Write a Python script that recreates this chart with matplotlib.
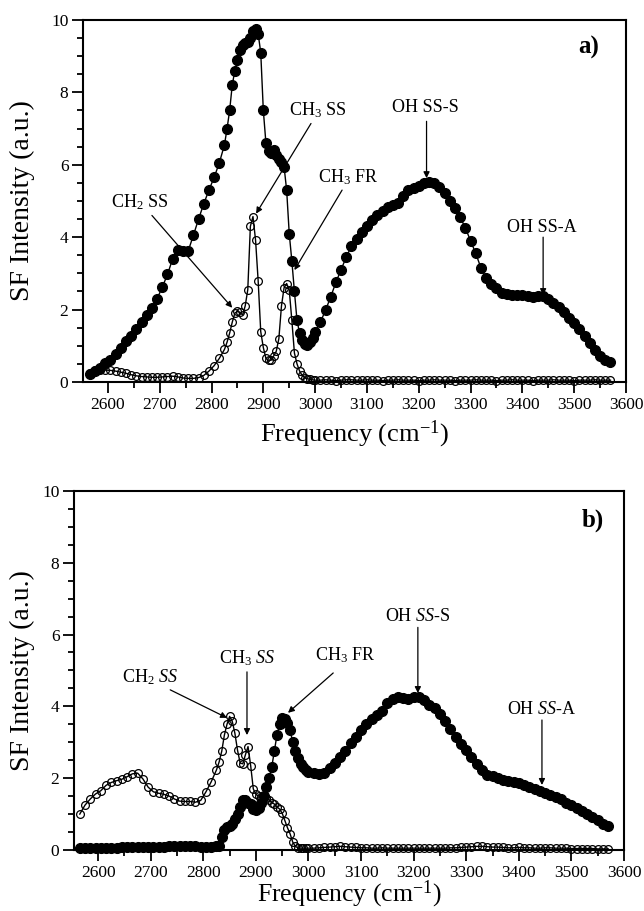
import matplotlib
matplotlib.use('Agg')
import matplotlib.pyplot as plt
from matplotlib.ticker import MultipleLocator

plt.rcParams['font.family'] = ['Liberation Serif', 'DejaVu Serif']
plt.rcParams['mathtext.fontset'] = 'custom'
plt.rcParams['mathtext.rm'] = 'Liberation Serif'
plt.rcParams['mathtext.it'] = 'Liberation Serif:italic'
plt.rcParams['mathtext.bf'] = 'Liberation Serif:bold'

# frequency grid (cm-1), finer through the CH stretch region
freq = list(range(2565, 2830, 10)) + list(range(2830, 3000, 5)) + list(range(3000, 3575, 10))

# panel a) filled circles
sf_a_filled = [
    0.22, 0.30, 0.40, 0.52, 0.62, 0.78, 0.95, 1.12, 1.28, 1.45,
    1.65, 1.85, 2.03, 2.30, 2.62, 2.97, 3.40, 3.65, 3.62, 3.62,
    4.05, 4.50, 4.92, 5.30, 5.65, 6.05, 6.55,
    7.00, 7.50, 8.20, 8.60, 8.90, 9.18, 9.30, 9.36, 9.38, 9.50,
    9.70, 9.74, 9.62, 9.10, 7.50, 6.60, 6.38, 6.32, 6.40, 6.28,
    6.15, 6.07, 5.95, 5.30, 4.10, 3.35, 2.50, 1.70, 1.35, 1.15,
    1.05, 1.03, 1.10, 1.22,
    1.38, 1.65, 1.98, 2.35, 2.75, 3.10, 3.45, 3.75, 3.95, 4.15,
    4.32, 4.48, 4.60, 4.72, 4.82, 4.88, 4.95, 5.15, 5.30, 5.35,
    5.40, 5.50, 5.52, 5.50, 5.38, 5.22, 5.00, 4.80, 4.55, 4.25,
    3.90, 3.55, 3.15, 2.88, 2.72, 2.60, 2.47, 2.42, 2.41, 2.40,
    2.39, 2.37, 2.36, 2.38, 2.38, 2.28, 2.18, 2.06, 1.94, 1.78,
    1.64, 1.45, 1.27, 1.08, 0.88, 0.72, 0.60, 0.56,
]

# panel a) open circles
sf_a_open = [
    0.25, 0.32, 0.33, 0.33, 0.32, 0.30, 0.27, 0.24, 0.20, 0.17,
    0.15, 0.14, 0.13, 0.13, 0.14, 0.15, 0.16, 0.14, 0.11, 0.10,
    0.10, 0.12, 0.18, 0.30, 0.45, 0.65, 0.90,
    1.10, 1.35, 1.65, 1.90, 1.95, 1.92, 1.85, 2.10, 2.55, 4.30,
    4.57, 3.92, 2.80, 1.39, 0.95, 0.65, 0.60, 0.60, 0.72, 0.85,
    1.20, 2.10, 2.60, 2.72, 2.54, 1.71, 0.80, 0.50, 0.30, 0.18,
    0.12, 0.09, 0.07, 0.06,
    0.05, 0.05, 0.06, 0.05, 0.04, 0.05, 0.06, 0.06, 0.05, 0.05,
    0.06, 0.05, 0.05, 0.04, 0.05, 0.05, 0.06, 0.05, 0.05, 0.05,
    0.04, 0.05, 0.05, 0.06, 0.05, 0.05, 0.05, 0.04, 0.05, 0.05,
    0.05, 0.06, 0.05, 0.05, 0.05, 0.04, 0.05, 0.05, 0.06, 0.05,
    0.05, 0.05, 0.04, 0.05, 0.05, 0.05, 0.06, 0.05, 0.05, 0.05,
    0.04, 0.05, 0.05, 0.05, 0.06, 0.05, 0.05, 0.05,
]

# panel b) filled circles
sf_b_filled = [
    0.05, 0.05, 0.05, 0.05, 0.05, 0.06, 0.06, 0.06, 0.07, 0.07,
    0.08, 0.08, 0.08, 0.08, 0.08, 0.09, 0.09, 0.10, 0.10, 0.10,
    0.10, 0.10, 0.10, 0.09, 0.09, 0.09, 0.10,
    0.12, 0.35, 0.55, 0.65, 0.68, 0.72, 0.85, 1.00, 1.20, 1.38,
    1.38, 1.32, 1.28, 1.15, 1.12, 1.18, 1.30, 1.50, 1.75, 2.00,
    2.30, 2.75, 3.20, 3.50, 3.67, 3.65, 3.55, 3.34, 3.00, 2.75,
    2.55, 2.40, 2.30, 2.22,
    2.17, 2.13, 2.12, 2.15, 2.28, 2.42, 2.58, 2.75, 2.97, 3.15,
    3.35, 3.52, 3.65, 3.75, 3.88, 4.10, 4.20, 4.27, 4.22, 4.20,
    4.25, 4.25, 4.17, 4.05, 3.95, 3.80, 3.60, 3.38, 3.15, 2.95,
    2.78, 2.58, 2.40, 2.22, 2.10, 2.05, 2.00, 1.96, 1.93, 1.90,
    1.87, 1.82, 1.76, 1.70, 1.65, 1.60, 1.54, 1.48, 1.42, 1.32,
    1.24, 1.17, 1.08, 1.00, 0.93, 0.83, 0.72, 0.66,
]

# panel b) open circles
sf_b_open = [
    1.00, 1.25, 1.42, 1.56, 1.65, 1.80, 1.88, 1.93, 1.97, 2.04,
    2.12, 2.14, 1.98, 1.75, 1.62, 1.58, 1.55, 1.50, 1.42, 1.36,
    1.35, 1.35, 1.33, 1.38, 1.62, 1.90, 2.23,
    2.45, 2.75, 3.20, 3.50, 3.72, 3.58, 3.25, 2.78, 2.42, 2.40,
    2.65, 2.88, 2.35, 1.70, 1.55, 1.50, 1.48, 1.46, 1.44, 1.40,
    1.32, 1.28, 1.20, 1.14, 1.02, 0.82, 0.62, 0.45, 0.22, 0.10,
    0.06, 0.05, 0.05, 0.05,
    0.05, 0.05, 0.06, 0.07, 0.08, 0.09, 0.10, 0.09, 0.08, 0.07,
    0.06, 0.06, 0.05, 0.05, 0.06, 0.05, 0.05, 0.05, 0.05, 0.05,
    0.05, 0.05, 0.05, 0.05, 0.05, 0.05, 0.05, 0.06, 0.06, 0.07,
    0.08, 0.09, 0.10, 0.10, 0.09, 0.08, 0.08, 0.07, 0.06, 0.06,
    0.07, 0.06, 0.06, 0.05, 0.05, 0.06, 0.06, 0.05, 0.05, 0.05,
    0.04, 0.04, 0.04, 0.04, 0.04, 0.03, 0.03, 0.03,
]

labels_a = ['CH$_2$ SS', 'CH$_3$ SS', 'CH$_3$ FR', 'OH SS-S', 'OH SS-A']
labels_b = [r'CH$_2$ $\mathit{SS}$', r'CH$_3$ $\mathit{SS}$', 'CH$_3$ FR',
            r'OH $\mathit{SS}$-S', r'OH $\mathit{SS}$-A']

fig = plt.figure(figsize=(6.44, 9.11), dpi=100)
ax_a = fig.add_axes([0.1289, 0.5807, 0.8432, 0.3974])
ax_b = fig.add_axes([0.1149, 0.0670, 0.8540, 0.3941])


def style_axes(ax, xleft, ylab_x, xlab_y, xlab_size):
    ax.set_xlim(xleft, 3600)
    ax.set_ylim(0, 10)
    ax.xaxis.set_major_locator(MultipleLocator(100))
    ax.xaxis.set_minor_locator(MultipleLocator(50))
    ax.yaxis.set_major_locator(MultipleLocator(2))
    ax.yaxis.set_minor_locator(MultipleLocator(0.5))
    ax.tick_params(which='both', direction='out', top=False, right=False,
                   width=1.3, labelsize=12.5)
    ax.tick_params(which='major', length=8, pad=2.5)
    ax.tick_params(which='minor', length=4.5)
    for s in ax.spines.values():
        s.set_linewidth(1.5)
    ax.set_ylabel('SF Intensity (a.u.)', fontsize=20)
    ax.set_xlabel('Frequency (cm$^{-1}$)', fontsize=xlab_size)
    ax.yaxis.set_label_coords(ylab_x, 0.5)
    ax.xaxis.set_label_coords(0.5, xlab_y)


def draw_series(ax, filled, opened):
    ax.plot(freq, filled, '-o', color='black', lw=1, ms=7,
            mfc='black', mec='black', clip_on=False, zorder=3)
    ax.plot(freq, opened, '-o', color='black', lw=1, ms=5.6,
            mfc='none', mec='black', mew=0.9, clip_on=False, zorder=4)


def note(ax, text, txy, start, tip):
    ax.text(txy[0], txy[1], text, fontsize=13, ha='center', va='center')
    ax.annotate('', xy=tip, xytext=start,
                arrowprops=dict(arrowstyle='-|>', color='black', lw=0.9,
                                mutation_scale=9, shrinkA=0, shrinkB=0),
                zorder=6)


# ---- panel a ----
draw_series(ax_a, sf_a_filled, sf_a_open)
style_axes(ax_a, 2552, -0.088, -0.100, 19)
note(ax_a, labels_a[0], (2662, 4.97), (2685, 4.60), (2840, 2.05))
note(ax_a, labels_a[1], (3004, 7.50), (2992, 7.14), (2886, 4.65))
note(ax_a, labels_a[2], (3063, 5.66), (3052, 5.30), (2960, 3.09))
note(ax_a, labels_a[3], (3213, 7.57), (3215, 7.20), (3215, 5.63))
note(ax_a, labels_a[4], (3437, 4.28), (3440, 4.00), (3440, 2.40))
ax_a.text(3527, 9.25, 'a)', fontsize=18, fontweight='bold', ha='center', va='center')

# ---- panel b ----
draw_series(ax_b, sf_b_filled, sf_b_open)
style_axes(ax_b, 2554, -0.071, -0.081, 18.5)
note(ax_b, labels_b[0], (2699, 4.82), (2737, 4.46), (2845, 3.68))
note(ax_b, labels_b[1], (2883, 5.35), (2883, 4.96), (2883, 3.20))
note(ax_b, labels_b[2], (3070, 5.43), (3047, 4.93), (2961, 3.82))
note(ax_b, labels_b[3], (3208, 6.49), (3208, 6.20), (3208, 4.37))
note(ax_b, labels_b[4], (3444, 3.90), (3444, 3.62), (3444, 1.81))
ax_b.text(3541, 9.19, 'b)', fontsize=18, fontweight='bold', ha='center', va='center')

fig.savefig('out.png', dpi=100)
